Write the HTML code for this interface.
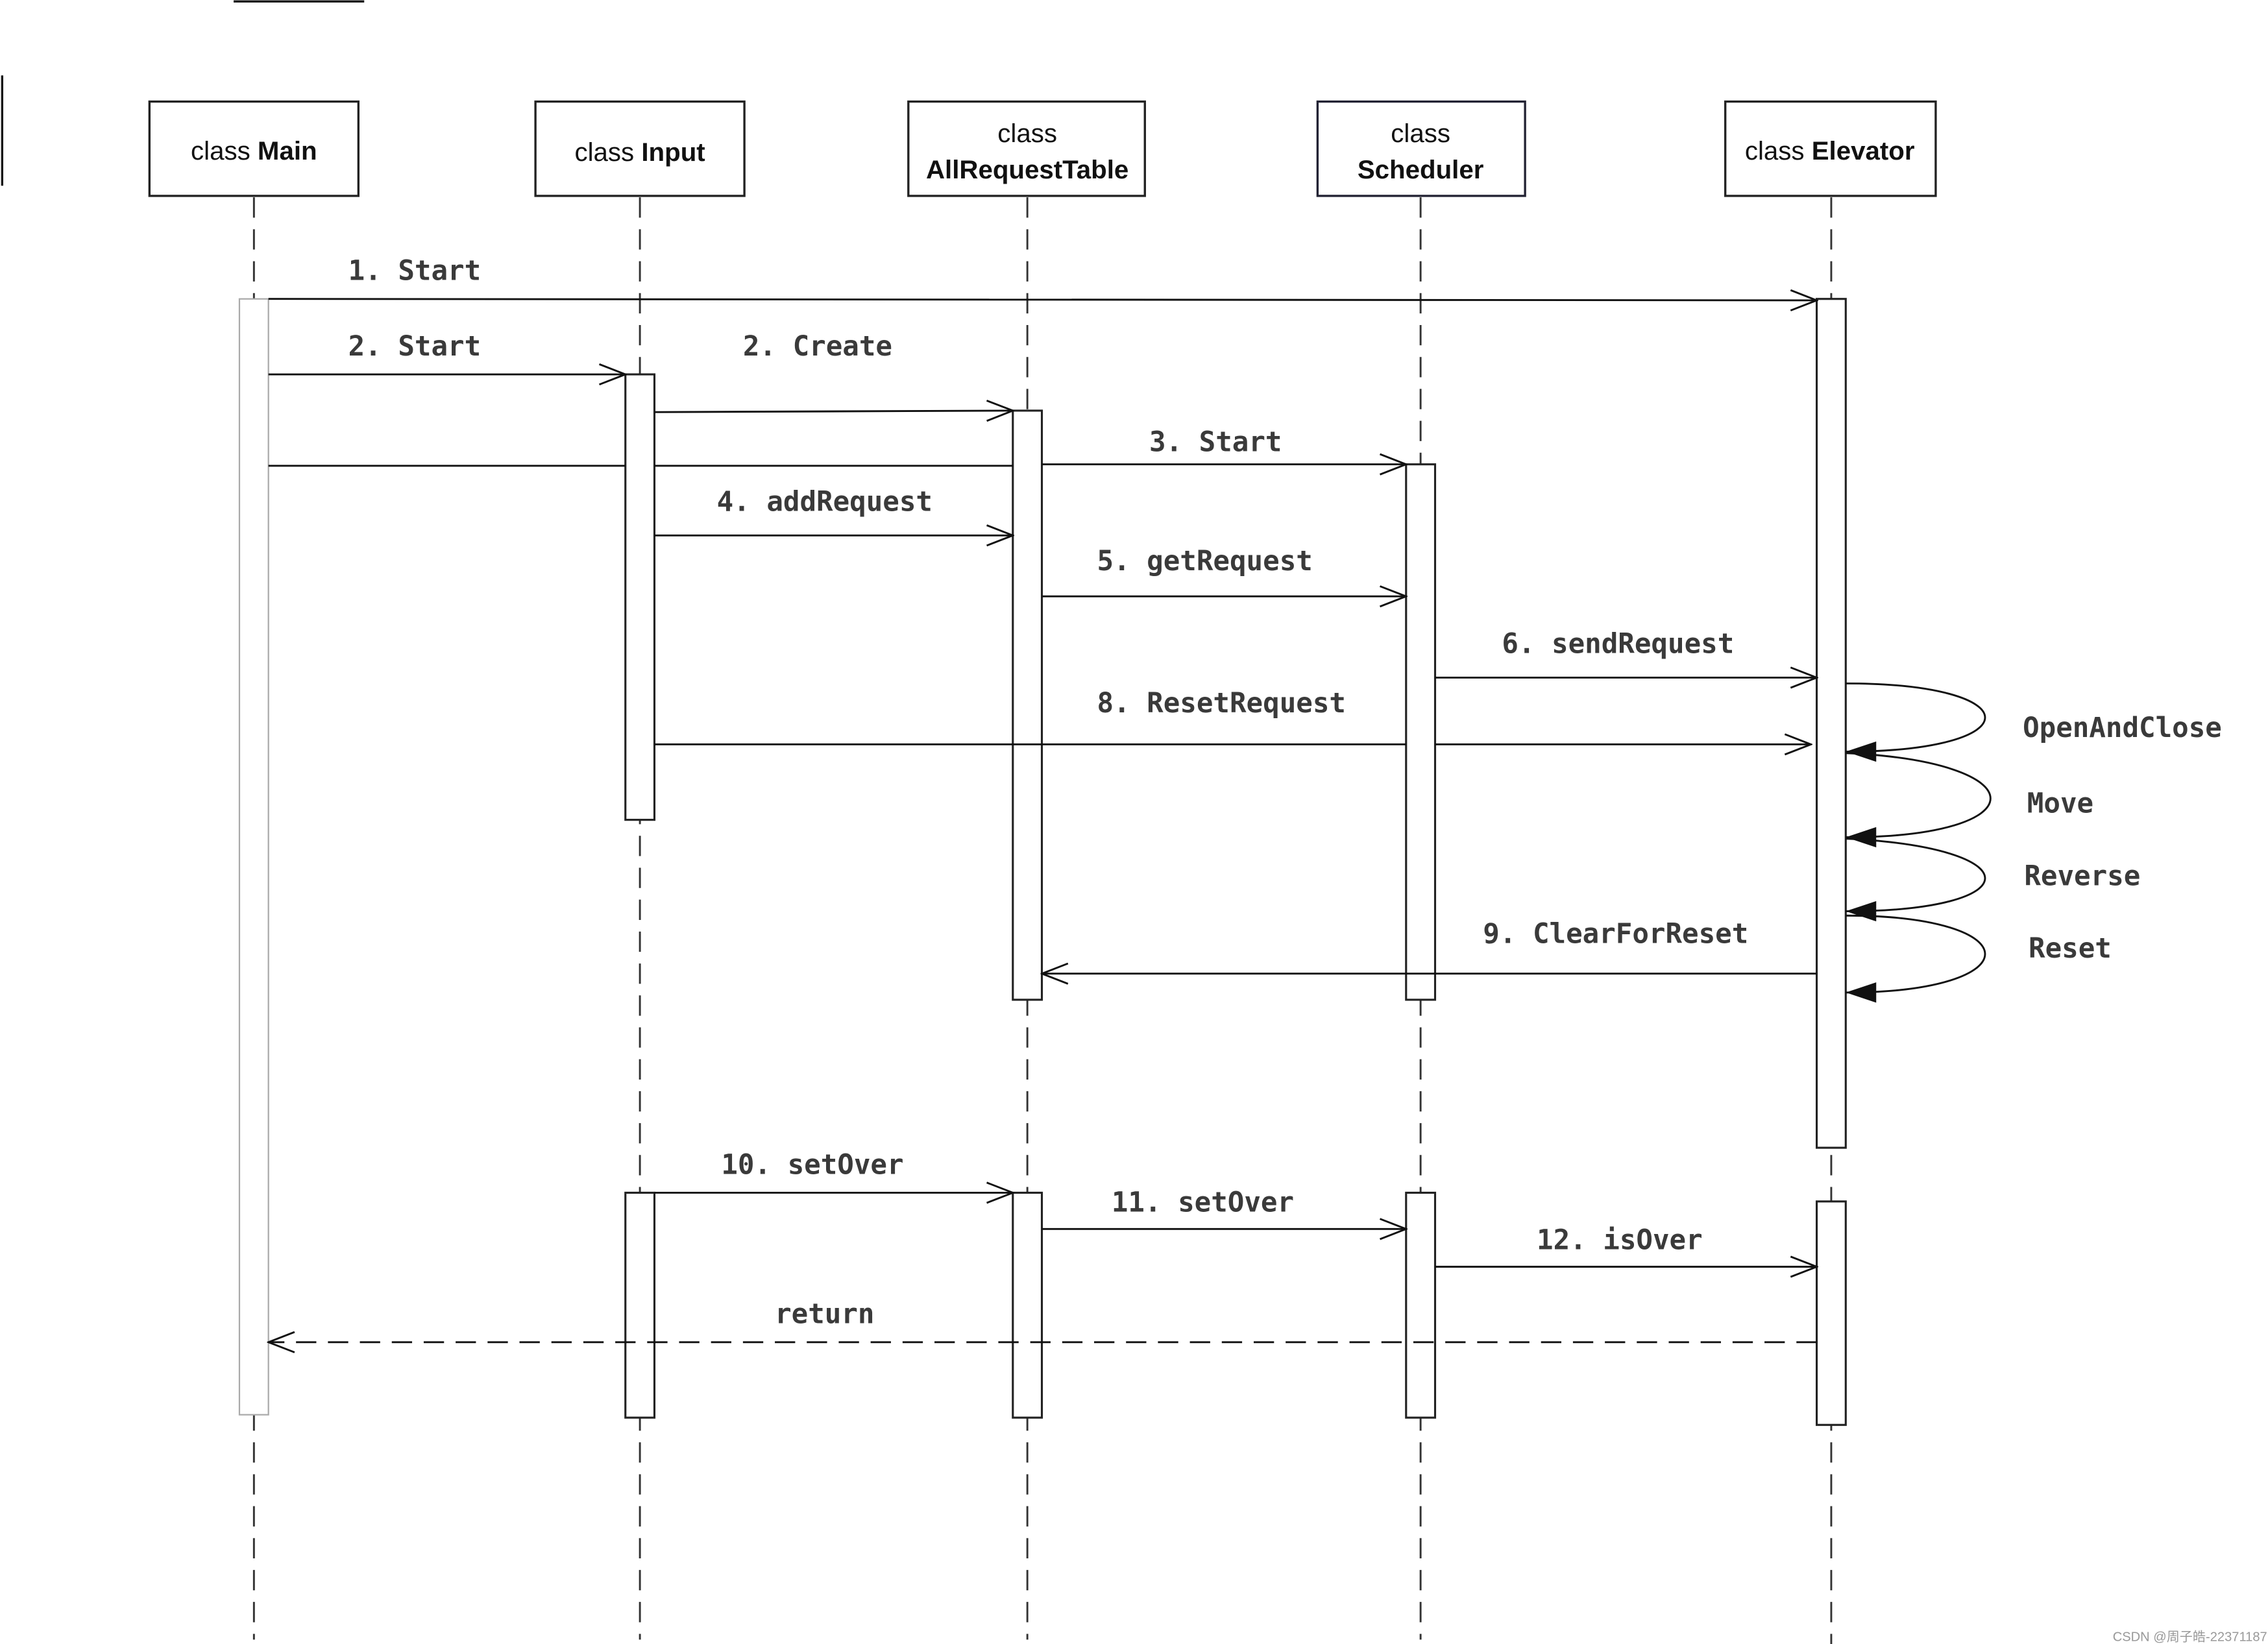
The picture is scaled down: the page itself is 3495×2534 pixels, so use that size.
<!DOCTYPE html>
<html><head><meta charset="utf-8"><style>
html,body{margin:0;padding:0;background:#fff}
svg{display:block}
.m{font-family:"DejaVu Sans Mono","Liberation Mono",monospace;font-size:19px;font-weight:bold;fill:#3a3a3a}
.b{font-family:"Liberation Sans","DejaVu Sans",sans-serif;font-size:18px;fill:#111}
</style></head><body>
<svg width="3495" height="2534" viewBox="0 0 1563 1133" preserveAspectRatio="none" xmlns="http://www.w3.org/2000/svg">
<defs>
<marker id="o" markerWidth="20" markerHeight="16" refX="19" refY="8" orient="auto" markerUnits="userSpaceOnUse"><path d="M1,1 L19,8 L1,15" fill="none" stroke="#111" stroke-width="1.3"/></marker>
<marker id="f" markerWidth="22" markerHeight="14" refX="21" refY="7" orient="auto" markerUnits="userSpaceOnUse"><path d="M0,0 L21,7 L0,14 Z" fill="#111"/></marker>
</defs>
<rect width="1563" height="1133" fill="#fff"/>
<line x1="161" y1="1" x2="251" y2="1" stroke="#111" stroke-width="1.5"/>
<line x1="1.5" y1="52" x2="1.5" y2="128" stroke="#111" stroke-width="1.5"/>
<g stroke="#333" stroke-width="1.3" stroke-dasharray="14,8">
<line x1="175" y1="136" x2="175" y2="1130"/>
<line x1="441" y1="136" x2="441" y2="1130"/>
<line x1="708" y1="136" x2="708" y2="1130"/>
<line x1="979" y1="136" x2="979" y2="1130"/>
<line x1="1262" y1="136" x2="1262" y2="1133"/>
</g>
<g fill="#fff" stroke="#222" stroke-width="1.5">
<rect x="103" y="70" width="144" height="65"/>
<rect x="369" y="70" width="144" height="65"/>
<rect x="626" y="70" width="163" height="65"/>
<rect x="908" y="70" width="143" height="65" stroke="#223"/>
<rect x="1189" y="70" width="145" height="65"/>
</g>
<text class="b" x="175" y="110" text-anchor="middle">class <tspan font-weight="bold">Main</tspan></text>
<text class="b" x="441" y="111" text-anchor="middle">class <tspan font-weight="bold">Input</tspan></text>
<text class="b" x="708" y="98" text-anchor="middle">class</text>
<text class="b" x="708" y="123" text-anchor="middle" font-weight="bold">AllRequestTable</text>
<text class="b" x="979" y="98" text-anchor="middle">class</text>
<text class="b" x="979" y="123" text-anchor="middle" font-weight="bold">Scheduler</text>
<text class="b" x="1261" y="110" text-anchor="middle">class <tspan font-weight="bold">Elevator</tspan></text>
<rect x="165" y="206" width="20" height="769" fill="#fff" stroke="#aaa" stroke-width="1"/>
<g fill="#fff" stroke="#222" stroke-width="1.4">
<rect x="431" y="258" width="20" height="307"/>
<rect x="431" y="822" width="20" height="155"/>
<rect x="698" y="283" width="20" height="406"/>
<rect x="698" y="822" width="20" height="155"/>
<rect x="969" y="320" width="20" height="369"/>
<rect x="969" y="822" width="20" height="155"/>
<rect x="1252" y="206" width="20" height="585"/>
<rect x="1252" y="828" width="20" height="154"/>
</g>
<g stroke="#111" stroke-width="1.3" fill="none">
<line x1="185" y1="206" x2="1252" y2="207" marker-end="url(#o)"/>
<line x1="185" y1="258" x2="431" y2="258" marker-end="url(#o)"/>
<line x1="451" y1="284" x2="698" y2="283" marker-end="url(#o)"/>
<line x1="185" y1="321" x2="431" y2="321"/>
<line x1="451" y1="321" x2="698" y2="321"/>
<line x1="718" y1="320" x2="969" y2="320" marker-end="url(#o)"/>
<line x1="451" y1="369" x2="698" y2="369" marker-end="url(#o)"/>
<line x1="718" y1="411" x2="969" y2="411" marker-end="url(#o)"/>
<line x1="989" y1="467" x2="1252" y2="467" marker-end="url(#o)"/>
<line x1="451" y1="513" x2="969" y2="513"/>
<line x1="989" y1="513" x2="1248" y2="513" marker-end="url(#o)"/>
<line x1="1252" y1="671" x2="718" y2="671" marker-end="url(#o)"/>
<line x1="451" y1="822" x2="698" y2="822" marker-end="url(#o)"/>
<line x1="718" y1="847" x2="969" y2="847" marker-end="url(#o)"/>
<line x1="989" y1="873" x2="1252" y2="873" marker-end="url(#o)"/>
<line x1="1252" y1="925" x2="185" y2="925" stroke-dasharray="14,8" marker-end="url(#o)"/>
<path d="M1272,471 C1400,471 1400,518 1272,518" marker-end="url(#f)"/>
<path d="M1272,519 C1405,525 1405,577 1272,577" marker-end="url(#f)"/>
<path d="M1272,578 C1400,584 1400,628 1272,628" marker-end="url(#f)"/>
<path d="M1272,631 C1400,631 1400,684 1272,684" marker-end="url(#f)"/>
</g>
<text class="m" x="240" y="193">1. Start</text>
<text class="m" x="240" y="245">2. Start</text>
<text class="m" x="512" y="245">2. Create</text>
<text class="m" x="792" y="311">3. Start</text>
<text class="m" x="494" y="352">4. addRequest</text>
<text class="m" x="756" y="393">5. getRequest</text>
<text class="m" x="1035" y="450">6. sendRequest</text>
<text class="m" x="756" y="491">8. ResetRequest</text>
<text class="m" x="1394" y="508">OpenAndClose</text>
<text class="m" x="1397" y="560">Move</text>
<text class="m" x="1395" y="610">Reverse</text>
<text class="m" x="1398" y="660">Reset</text>
<text class="m" x="1022" y="650">9. ClearForReset</text>
<text class="m" x="497" y="809">10. setOver</text>
<text class="m" x="766" y="835">11. setOver</text>
<text class="m" x="1059" y="861">12. isOver</text>
<text class="m" x="534" y="912">return</text>
<text x="1456" y="1131" font-family="Liberation Sans,Noto Sans CJK SC,sans-serif" font-size="9" fill="#999">CSDN @周子皓-22371187</text>
</svg>
</body></html>
